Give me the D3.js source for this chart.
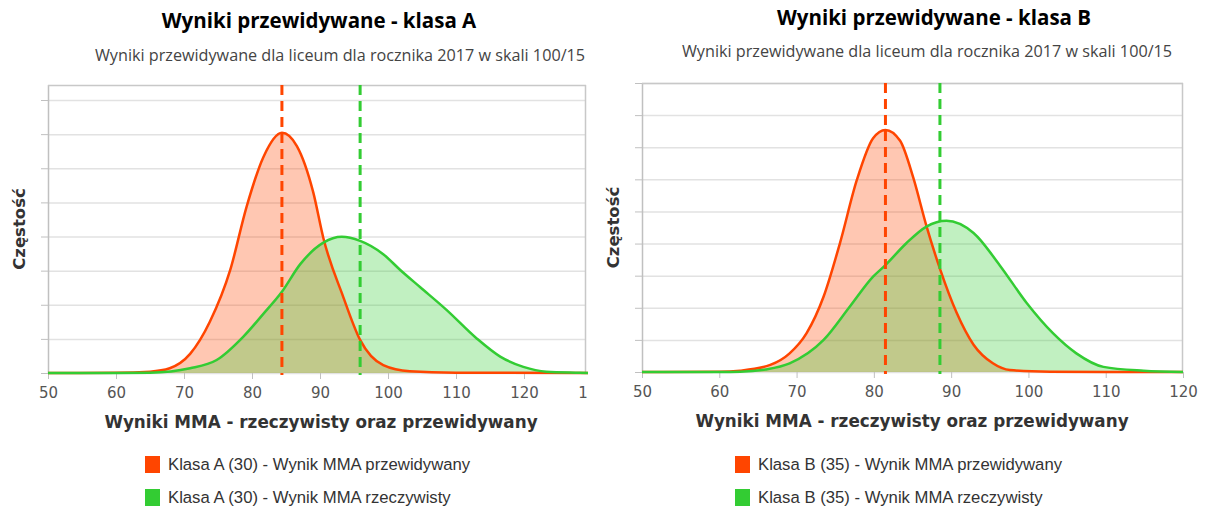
<!DOCTYPE html>
<meta charset="utf-8">

<!-- Load d3.js -->
<script src="https://d3js.org/d3.v7.min.js"></script>

<style>
  body { margin: 0; background: #fff; }
</style>

<svg id="my_dataviz" width="1207" height="509"></svg>

<script>

// Texts
var subtitle = "Wyniki przewidywane dla liceum dla rocznika 2017 w skali 100/15";
var xTitle = "Wyniki MMA - rzeczywisty oraz przewidywany";
var yTitle = "Częstość";

// Class A
var titleA = "Wyniki przewidywane - klasa A";
var legendA = ["Klasa A (30) - Wynik MMA przewidywany", "Klasa A (30) - Wynik MMA rzeczywisty"];
var xTicksA = [50, 60, 70, 80, 90, 100, 110, 120, 130];
var yTicksA = [0, 1, 2, 3, 4, 5, 6, 7, 8];
var predXA = [50, 60, 65.0, 67.9, 70.9, 73.8, 76.8, 79.2, 81.7, 84.4, 86.6, 89.0, 90.5, 93.4, 95.9, 99.3, 103.2, 110, 130];
var predYA = [0, 0.005, 0.04, 0.14, 0.56, 1.5, 3.02, 4.87, 6.34, 7.04, 6.65, 5.3, 3.95, 2.24, 0.97, 0.23, 0.05, 0.01, 0];
var realXA = [50, 60, 65.0, 70.9, 74.8, 78.7, 81.7, 84.4, 87.1, 90.5, 93.2, 95.9, 99.3, 101.8, 104.7, 108.6, 113.0, 116.5, 119.9, 123.3, 128.2, 130];
var realYA = [0, 0.003, 0.01, 0.14, 0.38, 1.06, 1.74, 2.38, 3.19, 3.82, 3.99, 3.87, 3.48, 3.02, 2.52, 1.85, 1.02, 0.48, 0.18, 0.04, 0.01, 0];
var meanPredA = 84.4, meanRealA = 95.9;

// Class B
var titleB = "Wyniki przewidywane - klasa B";
var legendB = ["Klasa B (35) - Wynik MMA przewidywany", "Klasa B (35) - Wynik MMA rzeczywisty"];
var xTicksB = [50, 60, 70, 80, 90, 100, 110, 120];
var yTicksB = [0, 1, 2, 3, 4, 5, 6, 7, 8, 9];
var predXB = [50, 60, 62.7, 66.6, 69.1, 71.3, 73.5, 75.6, 77.8, 79.9, 81.5, 83.4, 85.1, 86.8, 88.6, 90.7, 92.9, 95.4, 97.6, 102.8, 110, 120];
var predYB = [0, 0.005, 0.04, 0.22, 0.58, 1.21, 2.35, 4.0, 5.98, 7.28, 7.54, 7.2, 6.05, 4.55, 3.18, 1.85, 0.85, 0.27, 0.06, 0.01, 0, 0];
var realXB = [50, 60, 62.7, 66, 69.1, 73.5, 76.9, 79.9, 81.5, 84.2, 86.8, 89.4, 92.9, 96.3, 99.8, 103.2, 106.2, 109.7, 114.9, 120];
var realYB = [0, 0.003, 0.01, 0.08, 0.27, 1.0, 2.04, 2.97, 3.33, 4.01, 4.53, 4.71, 4.33, 3.32, 2.14, 1.2, 0.58, 0.16, 0.04, 0];
var meanPredB = 81.5, meanRealB = 88.55;

var orange = "#ff4500", green = "#33cc33";

var svg = d3.select("#my_dataviz");

// left chart is cropped on the right, like in the original screenshot
svg.append("clipPath").attr("id", "cropA")
  .append("rect").attr("x", 0).attr("y", 0).attr("width", 588).attr("height", 509);

function drawChart(g, c) {
  var x = d3.scaleLinear().domain([c.xTicks[0], c.xTicks[c.xTicks.length - 1]]).range([c.left, c.xEnd]);
  var y = d3.scaleLinear().domain([0, c.yMax]).range([c.bottom, c.top]);

  // title + subtitle
  g.append("text")
    .attr("x", c.titleX).attr("y", c.titleY)
    .attr("text-anchor", "middle")
    .style("font", "bold 20.5px 'Open Sans', sans-serif")
    .style("fill", "#000")
    .text(c.title);
  g.append("text")
    .attr("x", c.subX).attr("y", c.subY)
    .attr("text-anchor", "middle")
    .style("font", "16.2px 'Open Sans', sans-serif")
    .style("fill", "#444")
    .text(subtitle);

  // grid
  g.append("g")
    .selectAll("line")
    .data(c.yTicks)
    .enter()
    .append("line")
      .attr("x1", c.left).attr("x2", c.right)
      .attr("y1", function(d) { return y(d) + 0.5; })
      .attr("y2", function(d) { return y(d) + 0.5; })
      .style("stroke", "#e2e2e2")
      .style("stroke-width", 1.5);

  // y ticks (no labels)
  g.append("g")
    .selectAll("line")
    .data(c.yTicks)
    .enter()
    .append("line")
      .attr("x1", c.left - 7).attr("x2", c.left)
      .attr("y1", function(d) { return y(d) + 0.5; })
      .attr("y2", function(d) { return y(d) + 0.5; })
      .style("stroke", "#c0c0c0");

  // frame
  g.append("line").attr("x1", c.left + 0.5).attr("x2", c.left + 0.5).attr("y1", c.top).attr("y2", c.bottom)
    .style("stroke", "#c0c0c0").style("stroke-width", 1.5);
  g.append("line").attr("x1", c.left).attr("x2", c.right).attr("y1", c.top + 0.5).attr("y2", c.top + 0.5)
    .style("stroke", "#c8c8c8").style("stroke-width", 1.5);
  g.append("line").attr("x1", c.right - 0.5).attr("x2", c.right - 0.5).attr("y1", c.top).attr("y2", c.bottom)
    .style("stroke", "#c8c8c8").style("stroke-width", 1.5);

  // x axis
  var xAxis = g.append("g")
    .attr("transform", "translate(0," + c.bottom + ")")
    .call(d3.axisBottom(x).tickValues(c.xTicks).tickSize(6).tickPadding(8).tickFormat(d3.format("d")));
  xAxis.select(".domain").remove();
  xAxis.selectAll("line").style("stroke", "#c0c0c0");
  xAxis.selectAll("text")
    .style("font-family", "'DejaVu Sans', sans-serif")
    .style("font-size", "15px")
    .style("fill", "#555");

  // axis titles
  g.append("text")
    .attr("x", c.xTitleX).attr("y", c.xTitleY)
    .attr("text-anchor", "middle")
    .style("font", "bold 16.8px 'DejaVu Sans', sans-serif")
    .style("fill", "#333")
    .text(xTitle);
  g.append("text")
    .attr("transform", "translate(" + c.yTitleX + "," + ((c.top + c.bottom) / 2) + ") rotate(-90)")
    .attr("text-anchor", "middle")
    .style("font", "bold 16.5px 'DejaVu Sans', sans-serif")
    .style("fill", "#333")
    .text(yTitle);

  // series
  var series = [
    { xs: c.predX, ys: c.predY, color: orange },
    { xs: c.realX, ys: c.realY, color: green }
  ];

  var area = d3.area()
    .curve(d3.curveMonotoneX)
    .x(function(d) { return x(d[0]); })
    .y0(y(0))
    .y1(function(d) { return y(d[1]); });
  var line = d3.line()
    .curve(d3.curveMonotoneX)
    .x(function(d) { return x(d[0]); })
    .y(function(d) { return y(d[1]); });

  var plot = g.append("g");
  series.forEach(function(s) {
    var pts = s.xs.map(function(v, i) { return [v, s.ys[i]]; });
    plot.append("path")
      .attr("d", area(pts))
      .style("fill", s.color)
      .style("fill-opacity", 0.3);
  });
  series.forEach(function(s) {
    var pts = s.xs.map(function(v, i) { return [v, s.ys[i]]; });
    plot.append("path")
      .attr("d", line(pts))
      .style("fill", "none")
      .style("stroke", s.color)
      .style("stroke-width", 2.5);
  });

  // mean lines
  [[c.meanPred, orange], [c.meanReal, green]].forEach(function(m) {
    g.append("line")
      .attr("x1", x(m[0])).attr("x2", x(m[0]))
      .attr("y1", c.top).attr("y2", c.bottom + 2)
      .style("stroke", m[1])
      .style("stroke-width", 3)
      .style("stroke-dasharray", "10,6");
  });

  // legend
  var leg = g.append("g")
    .selectAll("g")
    .data(c.legend)
    .enter()
    .append("g")
      .attr("transform", function(d, i) { return "translate(" + c.legX + "," + (c.legY + i * 33) + ")"; });
  leg.append("rect")
    .attr("x", 0).attr("y", -8)
    .attr("width", 15).attr("height", 17)
    .style("fill", function(d, i) { return i === 0 ? orange : green; });
  leg.append("text")
    .attr("x", 23).attr("y", 6)
    .style("font", "16.7px 'Liberation Sans', Arial, sans-serif")
    .style("fill", "#333")
    .text(function(d) { return d; });
}

drawChart(svg.append("g").attr("clip-path", "url(#cropA)"), {
  title: titleA, legend: legendA,
  xTicks: xTicksA, yTicks: yTicksA, yMax: 8.44,
  predX: predXA, predY: predYA, realX: realXA, realY: realYA,
  meanPred: meanPredA, meanReal: meanRealA,
  left: 48, right: 586, xEnd: 592, top: 85, bottom: 373,
  titleX: 319, titleY: 28, subX: 340, subY: 61,
  xTitleX: 321, xTitleY: 428, yTitleX: 25,
  legX: 145, legY: 464
});

drawChart(svg.append("g"), {
  title: titleB, legend: legendB,
  xTicks: xTicksB, yTicks: yTicksB, yMax: 9,
  predX: predXB, predY: predYB, realX: realXB, realY: realYB,
  meanPred: meanPredB, meanReal: meanRealB,
  left: 642, right: 1183, xEnd: 1183, top: 83, bottom: 372,
  titleX: 934, titleY: 25, subX: 927, subY: 57,
  xTitleX: 912, xTitleY: 427, yTitleX: 619,
  legX: 735, legY: 464
});

</script>
